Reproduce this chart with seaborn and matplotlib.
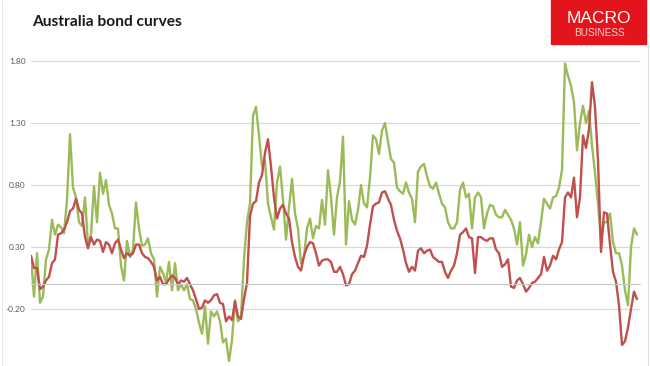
import numpy as np
import pandas as pd
import matplotlib
matplotlib.use("Agg")
import matplotlib.pyplot as plt
import seaborn as sns
from matplotlib.patches import Rectangle
from matplotlib.lines import Line2D

# weekly readings
green = [0.22, -0.10, 0.25, -0.15, -0.10, 0.20, 0.28, 0.52, 0.40, 0.48,
         0.46, 0.41, 0.68, 1.21, 0.78, 0.70, 0.50, 0.47, 0.70, 0.32,
         0.40, 0.79, 0.50, 0.90, 0.73, 0.84, 0.64, 0.57, 0.45, 0.45,
         0.15, 0.03, 0.35, 0.22, 0.28, 0.66, 0.45, 0.31, 0.32, 0.37,
         0.25, 0.20, -0.10, 0.14, 0.09, 0.01, 0.18, -0.05, 0.17, -0.05,
         0.00, -0.05, 0.00, -0.12, -0.13, -0.20, -0.31, -0.40, -0.18, -0.48,
         -0.22, -0.26, -0.22, -0.30, -0.47, -0.44, -0.62, -0.45, -0.13, -0.30,
         -0.26, 0.20, 0.50, 0.65, 1.36, 1.43, 1.20, 0.95, 1.00, 0.65,
         0.54, 0.44, 0.82, 0.95, 0.68, 0.36, 0.62, 0.85, 0.57, 0.45,
         0.17, 0.22, 0.45, 0.53, 0.37, 0.47, 0.45, 0.68, 0.48, 0.92,
         0.70, 0.40, 0.70, 0.83, 1.19, 0.32, 0.67, 0.52, 0.48, 0.60,
         0.80, 0.65, 0.62, 0.86, 1.20, 1.17, 1.05, 1.24, 1.30, 1.15,
         1.01, 0.98, 0.78, 0.75, 0.73, 0.82, 0.74, 0.69, 0.50, 0.91,
         0.95, 0.97, 0.87, 0.79, 0.77, 0.82, 0.73, 0.65, 0.62, 0.50,
         0.45, 0.45, 0.50, 0.76, 0.82, 0.70, 0.73, 0.45, 0.70, 0.74,
         0.70, 0.45, 0.57, 0.64, 0.63, 0.56, 0.54, 0.54, 0.60, 0.56,
         0.52, 0.45, 0.32, 0.50, 0.15, 0.24, 0.40, 0.30, 0.38, 0.33,
         0.50, 0.69, 0.65, 0.61, 0.70, 0.71, 0.78, 0.92, 1.78, 1.68,
         1.60, 1.47, 1.08, 1.30, 1.44, 1.30, 1.40, 1.12, 0.90, 0.65,
         0.36, 0.50, 0.50, 0.57, 0.34, 0.25, 0.25, 0.15, -0.05, -0.17,
         0.30, 0.45, 0.40]

red = [0.23, 0.13, 0.13, -0.04, -0.02, 0.03, 0.06, 0.17, 0.20, 0.40,
       0.41, 0.44, 0.50, 0.59, 0.61, 0.69, 0.60, 0.57, 0.38, 0.29,
       0.38, 0.32, 0.36, 0.35, 0.26, 0.34, 0.32, 0.25, 0.33, 0.36,
       0.28, 0.21, 0.25, 0.23, 0.25, 0.32, 0.32, 0.25, 0.22, 0.21,
       0.18, 0.14, 0.03, 0.06, 0.00, 0.00, 0.04, 0.07, 0.05, 0.00,
       0.03, 0.02, 0.05, 0.00, -0.05, -0.12, -0.20, -0.19, -0.13, -0.15,
       -0.13, -0.09, -0.08, -0.15, -0.16, -0.30, -0.26, -0.29, -0.14, -0.26,
       -0.28, -0.12, 0.01, 0.55, 0.65, 0.67, 0.82, 0.88, 1.06, 1.17,
       0.95, 0.70, 0.53, 0.61, 0.64, 0.57, 0.53, 0.34, 0.22, 0.14,
       0.11, 0.23, 0.30, 0.34, 0.33, 0.25, 0.15, 0.19, 0.20, 0.20,
       0.18, 0.10, 0.10, 0.14, 0.08, -0.01, 0.00, 0.08, 0.11, 0.17,
       0.23, 0.22, 0.31, 0.48, 0.63, 0.65, 0.66, 0.74, 0.75, 0.69,
       0.64, 0.52, 0.43, 0.37, 0.28, 0.17, 0.10, 0.14, 0.11, 0.27,
       0.29, 0.25, 0.27, 0.28, 0.22, 0.20, 0.18, 0.18, 0.10, 0.05,
       0.11, 0.15, 0.25, 0.40, 0.42, 0.45, 0.38, 0.37, 0.09, 0.38,
       0.38, 0.36, 0.35, 0.37, 0.37, 0.28, 0.25, 0.14, 0.16, 0.20,
       -0.02, -0.03, 0.03, 0.05, 0.00, -0.06, -0.03, 0.01, 0.02, 0.05,
       0.08, 0.22, 0.11, 0.15, 0.23, 0.20, 0.28, 0.34, 0.70, 0.74,
       0.70, 0.86, 0.54, 0.70, 1.20, 1.10, 1.25, 1.63, 1.43, 1.00,
       0.26, 0.58, 0.57, 0.32, 0.10, 0.02, -0.17, -0.49, -0.46, -0.35,
       -0.20, -0.06, -0.12]

y_ticks = [-0.20, 0.30, 0.80, 1.30, 1.80]

df = pd.DataFrame({"week": np.arange(len(green)), "green": green, "red": red})

sns.set_style("white")
plt.rcParams["font.family"] = ["Lato", "DejaVu Sans"]

fig = plt.figure(figsize=(6.5, 3.66), dpi=100)
ax = fig.add_axes([31 / 650, 0, 609 / 650, 321 / 366])

sns.lineplot(data=df, x="week", y="green", color="#9BBB59", lw=1.7, ax=ax)
sns.lineplot(data=df, x="week", y="red", color="#C0504D", lw=1.7, ax=ax)

ax.set_xlim(0, 203)
ax.set_ylim(-0.66, 1.93)
ax.set_yticks(y_ticks)
ax.set_yticklabels([f"{v:.2f}" for v in y_ticks])
ax.set_xticks(np.arange(0, 203, 25.6 / 3))
ax.set_xlabel("")
ax.set_ylabel("")
ax.grid(axis="y", color="#D9D9D9", lw=0.9)
ax.set_axisbelow(True)
for s in ["top", "right", "left"]:
    ax.spines[s].set_visible(False)
ax.spines["bottom"].set_position(("data", 0))
ax.spines["bottom"].set_color("#C8C8C8")
ax.spines["bottom"].set_linewidth(0.8)
ax.tick_params(axis="x", direction="out", length=3, color="#C8C8C8", labelbottom=False)
ax.tick_params(axis="y", length=0, pad=4, labelsize=6, labelcolor="#595959")

# title and logo
fig.text(32 / 650, 1 - 26 / 366, "Australia bond curves", fontsize=11.2,
         fontweight="bold", color="#1a1a1a", va="baseline")
fig.add_artist(Rectangle((551 / 650, 1 - 44 / 366), 95 / 650, 44 / 366,
                         transform=fig.transFigure, color="#E3141C"))
fig.text(599 / 650, 1 - 23 / 366, "MACRO", fontsize=12.5, color="white",
         ha="center", va="baseline", family="Liberation Sans")
fig.text(599 / 650, 1 - 36 / 366, "BUSINESS", fontsize=7.2, color="#F6D0D0",
         ha="center", va="baseline", family="Liberation Sans")

# faint frame
fig.add_artist(Line2D([1.5 / 650] * 2, [0, 1], transform=fig.transFigure, color="#E6E6E6", lw=0.8))
fig.add_artist(Line2D([647.5 / 650] * 2, [0, 1 - 44 / 366], transform=fig.transFigure, color="#E0E0E0", lw=0.8))

fig.savefig("out.png", dpi=100)
